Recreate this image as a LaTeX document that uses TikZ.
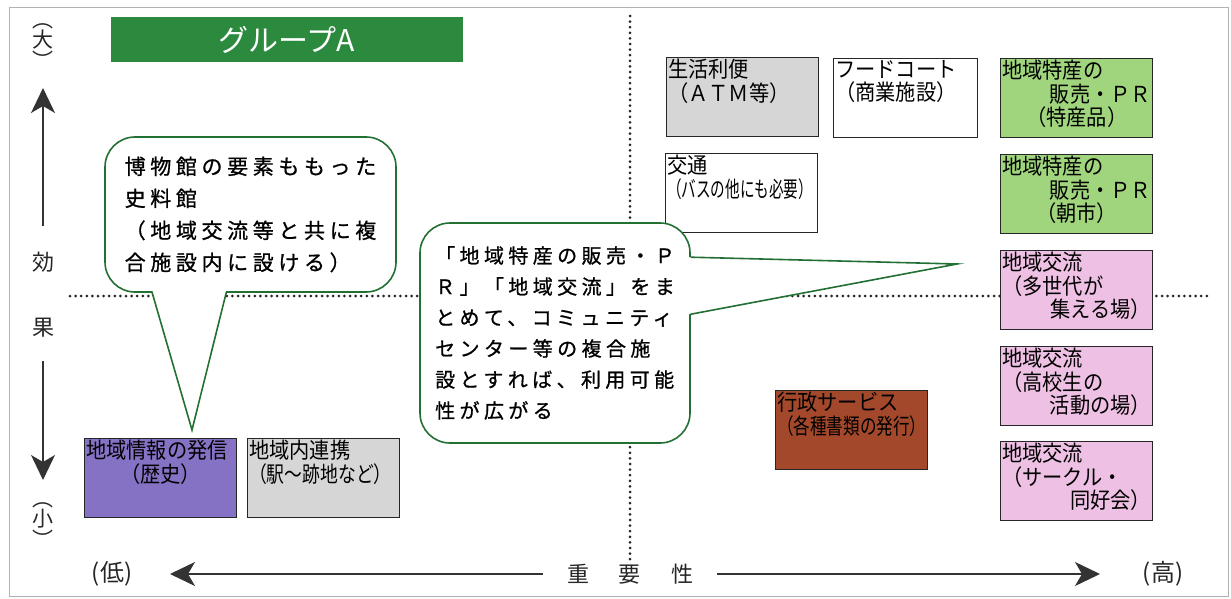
\documentclass[tikz,border=0pt]{standalone}
\usepackage{fontspec}
\usepackage{graphicx}
\setmainfont{Noto Sans CJK JP}
\newfontfamily\cellfont[FakeStretch=0.92]{Noto Sans CJK JP}
\newfontfamily\bubfont[LetterSpace=22,FakeBold=0.8]{Noto Sans CJK JP}
\usetikzlibrary{arrows.meta,calc,positioning}

\definecolor{grpgreen}{RGB}{44,138,62}
\definecolor{boxgreen}{RGB}{160,213,125}
\definecolor{boxpink}{RGB}{238,192,228}
\definecolor{boxgray}{RGB}{214,214,214}
\definecolor{boxpurple}{RGB}{134,114,196}
\definecolor{boxbrown}{RGB}{163,72,42}
\definecolor{bubgreen}{RGB}{34,112,52}

\newcommand{\cellin}[2][149pt]{\parbox[t][76pt][t]{#1}{#2}}

\begin{document}
\begin{tikzpicture}[x=1pt,y=-1pt,
  cellbox/.style={draw=black!85,line width=1.3pt,anchor=north west,inner sep=1.5pt,font={\cellfont\fontsize{22}{23.5}\selectfont}},
  bubble/.style={draw=bubgreen,line width=1.6pt,rounded corners=30pt,fill=white,align=left,inner sep=0pt},
  tail/.style={draw=bubgreen,line width=1.6pt,line join=miter},
  ylab/.style={inner sep=0pt,align=center,text=black!85,font={\fontsize{22}{24}\selectfont}},
  axisarrow/.style={line width=1.5pt,draw=black!80,-{Stealth[length=25pt,width=24pt,inset=7pt]}},
  dotline/.style={line width=3pt,dash pattern=on 0pt off 5.6pt,line cap=round,draw=black!85}]
\useasboundingbox (0,0) rectangle (1231,599);
\draw[gray!60,line width=1pt] (9,8) rectangle (1228,596);

\draw[dotline] (630,16) -- (630,560);
\draw[dotline] (70,296) -- (1210,296);

\node[fill=grpgreen,text=white,minimum width=352pt,minimum height=45pt,inner sep=0pt,font={\fontsize{30}{30}\selectfont}] (grp) at (287,39.5) {グループA};

% axes
\node[ylab,font={\fontsize{21}{15}\selectfont}] (big) at (43,46) {︵\\大\\︶};
\node[ylab] (eff1) at (43,262) {効};
\node[ylab] (eff2) at (43,328) {果};
\node[ylab,font={\fontsize{21}{15}\selectfont}] (small) at (43,525) {︵\\小\\︶};
\coordinate (uptip) at (43,88);
\coordinate (downtip) at (43,480);
\draw[axisarrow,shorten <=26pt] (eff1) -- (uptip);
\draw[axisarrow,shorten <=23pt] (eff2) -- (downtip);

\node[ylab,font={\fontsize{24}{24}\selectfont}] (low) at (112,574) {(低)};
\node[ylab,font={\fontsize{24}{24}\selectfont}] (high) at (1163,574) {(高)};
\node[ylab,inner xsep=24pt] (imp) at (630,574) {重\hspace{30pt}要\hspace{30pt}性};
\coordinate (lefttip) at (170,574);
\coordinate (righttip) at (1100,574);
\draw[axisarrow] (imp) -- (lefttip);
\draw[axisarrow] (imp) -- (righttip);

% cells
\node[cellbox,fill=boxgray] (atm) at (666,57) {\cellin{生活利便\\（ＡＴＭ等）}};
\node[cellbox,fill=white] (food) at (833,58) {\cellin[141pt]{フードコート\\（商業施設）}};
\node[cellbox,fill=boxgreen] (local1) at (1000,58) {\cellin{地域特産の\\\hspace*{\fill}販売・ＰＲ\\\hspace*{\fill}（特産品）\hspace*{\fill}}};
\node[cellbox,fill=white] (traffic) at (665,153) {\cellin{交通\\\scalebox{0.72}[1]{（バスの他にも必要）}}};
\node[cellbox,fill=boxgreen] (local2) at (1000,154) {\cellin{地域特産の\\\hspace*{\fill}販売・ＰＲ\\\hspace*{\fill}（朝市）\hspace*{\fill}}};
\node[cellbox,fill=boxpink] (comm1) at (1000,250) {\cellin{地域交流\\（多世代が\\\hspace*{\fill}集える場）}};
\node[cellbox,fill=boxpink] (comm2) at (1000,346) {\cellin{地域交流\\（高校生の\\\hspace*{\fill}活動の場）}};
\node[cellbox,fill=boxpink] (comm3) at (1000,441) {\cellin{地域交流\\（サークル・\\\hspace*{\fill}同好会）}};
\node[cellbox,fill=boxbrown] (admin) at (775,390) {\cellin{行政サービス\\\scalebox{0.82}[1]{（各種書類の発行）}}};
\node[cellbox,fill=boxpurple] (hist) at (84,438) {\cellin{地域情報の発信\\\hspace*{\fill}（歴史）\hspace*{\fill}}};
\node[cellbox,fill=boxgray] (link) at (247,438) {\cellin{地域内連携\\\scalebox{0.88}[1]{（駅～跡地など）}}};

% bubbles
\node[bubble,minimum width=291pt,minimum height=155pt,font={\bubfont\fontsize{21}{32}\selectfont}] (lbub) at (250.5,214.5)
  {博物館の要素ももった\\史料館\\（地域交流等と共に複\\合施設内に設ける）};
\coordinate (ltip) at (192,430);
\coordinate (lb1) at ($(lbub.south west)+(48,0)$);
\coordinate (lb2) at ($(lbub.south west)+(122,0)$);
\fill[white] ($(lb1)+(0,-3)$) -- (ltip) -- ($(lb2)+(0,-3)$) -- cycle;
\draw[tail] (lb1) -- (ltip) -- (lb2);

\node[bubble,minimum width=270pt,minimum height=220pt,font={\bubfont\fontsize{20}{31}\selectfont}] (cbub) at (555,333)
  {「地域特産の販売・Ｐ\\Ｒ」「地域交流」をま\\とめて、コミュニティ\\センター等の複合施\\設とすれば、利用可能\\性が広がる};
\coordinate (ctip) at (957,264);
\coordinate (cb1) at ($(cbub.north east)+(0,35)$);
\coordinate (cb2) at ($(cbub.north east)+(0,92)$);
\fill[white] ($(cb1)+(-3,0)$) -- (ctip) -- ($(cb2)+(-3,0)$) -- cycle;
\draw[tail] (cb1) -- (ctip) -- (cb2);
\end{tikzpicture}
\end{document}
